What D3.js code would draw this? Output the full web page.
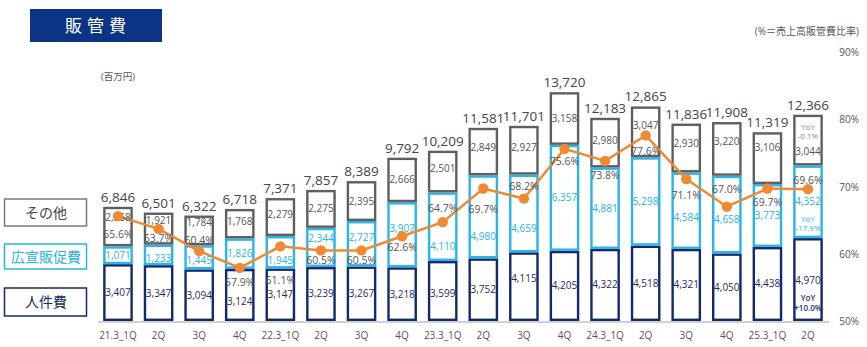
<!DOCTYPE html>
<html lang="ja">
<head>
<meta charset="utf-8">
<script src="https://cdn.jsdelivr.net/npm/d3@7.9.0/dist/d3.min.js"></script>
<style>
  body { margin: 0; background: #fff; }
  svg { display: block; font-family: "Open Sans", "Noto Sans CJK JP", sans-serif; }
</style>
</head>
<body>
<svg id="chart" width="867" height="347"></svg>
<script>
// quarters
const quarters = ['21.3_1Q', '2Q', '3Q', '4Q', '22.3_1Q', '2Q', '3Q', '4Q',
  '23.3_1Q', '2Q', '3Q', '4Q', '24.3_1Q', '2Q', '3Q', '4Q', '25.3_1Q', '2Q'];

// 人件費 / 広宣販促費 / その他 (百万円)
const personnel = [3407, 3347, 3094, 3124, 3147, 3239, 3267, 3218, 3599, 3752, 4115, 4205, 4322, 4518, 4321, 4050, 4438, 4970];
const promotion = [1071, 1233, 1445, 1826, 1945, 2344, 2727, 3907, 4110, 4980, 4659, 6357, 4881, 5298, 4584, 4658, 3773, 4352];
const other = [2368, 1921, 1784, 1768, 2279, 2275, 2395, 2666, 2501, 2849, 2927, 3158, 2980, 3047, 2930, 3220, 3106, 3044];
const totals = [6846, 6501, 6322, 6718, 7371, 7857, 8389, 9792, 10209, 11581, 11701, 13720, 12183, 12865, 11836, 11908, 11319, 12366];

// 売上高販管費比率 (%)
const ratio = [65.6, 63.7, 60.4, 57.9, 61.1, 60.5, 60.5, 62.6, 64.7, 69.7, 68.2, 75.6, 73.8, 77.6, 71.1, 67.0, 69.7, 69.6];
const ratioTicks = [50, 60, 70, 80, 90];

// YoY notes on the latest quarter
const yoyOther = '-0.1%';
const yoyPromotion = '-17.9%';
const yoyPersonnel = '+10.0%';

// label nudges (px) so values and ratios don't collide
const ratioLabelDy = [18, 9, -11, 14, 34, 10, 10, 11, -14, 20, -13, 12, 14, 16, 16, -18, 13, -9];
const personnelLabelDy = [0, 0, 0, 7, 0, 0, 0, 0, 3, 0, -8, 0, 0, 0, 0, 0, 0, 0];
const promotionLabelDy = [0, 4, 3, 0, 8, -9, -6, -6, 20, 20, 15, 0, 0, 0, 7, 5, 0, 0];
const otherLabelDy = [-9, -8, -8, -2, -3, 0, 0, 0, -3, -4, -3, 0, -2, -6, -5, -7, -11, 0];

const NAVY = '#12296b';
const NAVY_TEXT = '#1f2b5e';
const BLUE = '#2bb4e6';
const GRAY = '#5f5f5f';
const ORANGE = '#ef8a32';
const TEXT = '#555';

const svg = d3.select('#chart');
const base = 321;

const x = d3.scaleBand()
  .domain(d3.range(quarters.length))
  .range([97.7, 828.3])
  .paddingInner(0.27)
  .paddingOuter(0.135);
const cx = (i) => x(i) + x.bandwidth() / 2;

const y = d3.scaleLinear().domain([0, 16127]).range([base, 52]);
const yPct = d3.scaleLinear().domain([50, 90]).range([base, 52]);

// title block
svg.append('rect').attr('x', 30).attr('y', 9).attr('width', 132).attr('height', 33).attr('fill', '#0b3484');
svg.append('text').attr('x', 98).attr('y', 32).attr('text-anchor', 'middle')
  .attr('fill', '#fff').attr('font-size', 17).attr('letter-spacing', 5).text('販管費');

svg.append('text').attr('x', 101).attr('y', 80).attr('font-size', 9.5).attr('fill', TEXT).text('(百万円)');
svg.append('text').attr('x', 859).attr('y', 35).attr('text-anchor', 'end')
  .attr('font-size', 10).attr('fill', TEXT).text('(%＝売上高販管費比率)');

// right percent axis (labels only)
svg.append('g').selectAll('text').data(ratioTicks).join('text')
  .attr('x', 859).attr('y', (d) => yPct(d) + 4).attr('text-anchor', 'end')
  .attr('font-size', 10).attr('fill', TEXT).text((d) => d + '%');

// baseline
svg.append('line').attr('x1', 98).attr('x2', 829).attr('y1', base + 1).attr('y2', base + 1)
  .attr('stroke', '#d0d0d0').attr('stroke-width', 2);

// stacked segments
const stacks = quarters.map((q, i) => {
  const p1 = personnel[i];
  const a1 = p1 + promotion[i];
  const o1 = a1 + other[i];
  return [
    { key: 'personnel', i, v: personnel[i], y0: 0, y1: p1, color: NAVY, text: NAVY_TEXT, dy: personnelLabelDy[i] },
    { key: 'promotion', i, v: promotion[i], y0: p1, y1: a1, color: BLUE, text: BLUE, dy: promotionLabelDy[i] },
    { key: 'other', i, v: other[i], y0: a1, y1: o1, color: GRAY, text: TEXT, dy: otherLabelDy[i] },
  ];
});
const segs = stacks.flat();
const sw = 2.4;

svg.append('g').selectAll('rect').data(segs).join('rect')
  .attr('x', (d) => x(d.i) + sw / 2)
  .attr('y', (d) => y(d.y1) + sw / 2)
  .attr('width', x.bandwidth() - sw)
  .attr('height', (d) => Math.max(0, y(d.y0) - y(d.y1) - sw))
  .attr('fill', '#fff')
  .attr('stroke', (d) => d.color)
  .attr('stroke-width', sw);

// ratio line
const line = d3.line().x((d, i) => cx(i)).y((d) => yPct(d));
svg.append('path').datum(ratio).attr('d', line)
  .attr('fill', 'none').attr('stroke', ORANGE).attr('stroke-width', 2.5);

// segment values
const last = quarters.length - 1;
function segLabelY(d) {
  const top = y(d.y1), bot = y(d.y0);
  if (d.i === last) {
    if (d.key === 'other') return top + 40;
    if (d.key === 'promotion') return top + 39.5;
    return top + 46;
  }
  return (top + bot) / 2 + 3.5 + d.dy;
}
svg.append('g').selectAll('text').data(segs).join('text')
  .attr('x', (d) => cx(d.i))
  .attr('y', segLabelY)
  .attr('text-anchor', 'middle')
  .attr('font-size', 10)
  .attr('fill', (d) => d.text)
  .text((d) => d3.format(',')(d.v));

// YoY notes in the latest bar
const yoy = svg.append('g').attr('text-anchor', 'middle').attr('font-size', 8);
const lastStack = stacks[last];
[
  { seg: lastStack[2], lines: ['YoY', yoyOther], dy: 15, color: '#8a8a8a', weight: 400 },
  { seg: lastStack[1], lines: ['YoY', yoyPromotion], dy: 56, color: BLUE, weight: 400 },
  { seg: lastStack[0], lines: ['YoY', yoyPersonnel], dy: 63, color: NAVY_TEXT, weight: 600 },
].forEach((n) => {
  n.lines.forEach((t, k) => {
    yoy.append('text').attr('x', cx(last)).attr('y', y(n.seg.y1) + n.dy + k * 9.5)
      .attr('fill', n.color).attr('font-weight', n.weight).text(t);
  });
});

// totals above bars
svg.append('g').selectAll('text').data(totals).join('text')
  .attr('x', (d, i) => cx(i))
  .attr('y', (d) => y(d) - 5)
  .attr('text-anchor', 'middle')
  .attr('font-size', 13.5)
  .attr('fill', '#444')
  .text((d) => d3.format(',')(d));

// x labels
svg.append('g').selectAll('text').data(quarters).join('text')
  .attr('x', (d, i) => cx(i))
  .attr('y', 339)
  .attr('text-anchor', 'middle')
  .attr('font-size', 10)
  .attr('fill', TEXT)
  .text((d) => d);

// ratio points and labels
svg.append('g').selectAll('circle').data(ratio).join('circle')
  .attr('cx', (d, i) => cx(i)).attr('cy', (d) => yPct(d)).attr('r', 5.2)
  .attr('fill', ORANGE);

svg.append('g').selectAll('text').data(ratio).join('text')
  .attr('x', (d, i) => cx(i))
  .attr('y', (d, i) => yPct(d) + ratioLabelDy[i] + 4)
  .attr('text-anchor', 'middle')
  .attr('font-size', 10.5)
  .attr('fill', TEXT)
  .text((d) => d.toFixed(1) + '%');

// legend boxes
const legend = [
  { label: 'その他', y: 199, h: 27, color: '#7a7a7a', text: '#444' },
  { label: '広宣販促費', y: 244, h: 25, color: BLUE, text: BLUE },
  { label: '人件費', y: 288, h: 28, color: NAVY, text: NAVY },
];
const lg = svg.append('g').selectAll('g').data(legend).join('g');
lg.append('rect').attr('x', 4.5).attr('y', (d) => d.y).attr('width', 82).attr('height', (d) => d.h)
  .attr('fill', '#fff').attr('stroke', (d) => d.color).attr('stroke-width', 1.5);
lg.append('text').attr('x', 46).attr('y', (d) => d.y + d.h / 2 + 5)
  .attr('text-anchor', 'middle').attr('font-size', 14).attr('fill', (d) => d.text)
  .text((d) => d.label);
</script>
</body>
</html>
